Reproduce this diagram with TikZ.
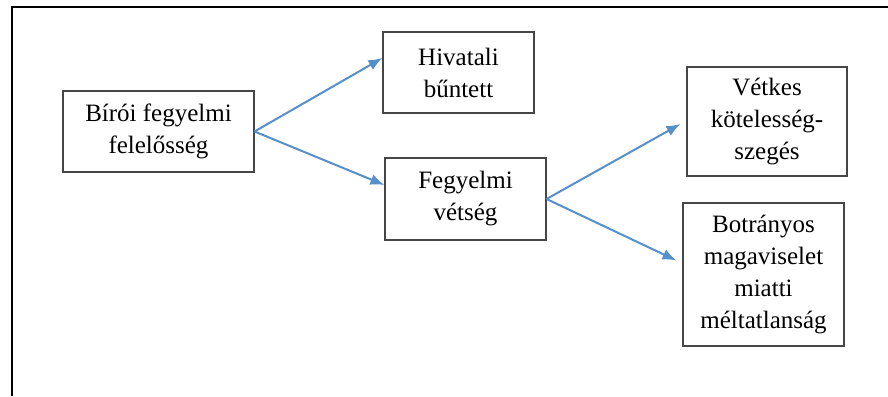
\documentclass[tikz,border=0pt]{standalone}
\usepackage{fontspec}
\setmainfont{Liberation Serif}
\usetikzlibrary{arrows.meta}
\definecolor{arrowblue}{RGB}{86,143,202}
\definecolor{boxgray}{RGB}{70,70,70}
\begin{document}
\begin{tikzpicture}[x=1pt,y=-1pt,
  box/.style={draw=boxgray,line width=1.1pt,align=center,inner sep=0pt,
    font=\fontsize{25}{32}\selectfont},
  conn/.style={draw=arrowblue,line width=2pt,-{Latex[length=14pt,width=11pt]}}]
\useasboundingbox (0,0) rectangle (888,396);
\draw[line width=2pt] (12,396) -- (12,7.5) -- (888,7.5);
\node[box,minimum width=191pt,minimum height=81pt] (biro) at (158.5,131.5) {Bírói fegyelmi\\felelősség};
\node[box,minimum width=151pt,minimum height=81pt] (hiv) at (458.5,72.5) {Hivatali\\bűntett};
\node[box,minimum width=161pt,minimum height=82pt] (fegy) at (465.5,199) {Fegyelmi\\vétség};
\node[box,minimum width=160pt,minimum height=109pt] (vet) at (767,121.5) {Vétkes\\kötelesség-\\szegés};
\node[box,minimum width=161pt,minimum height=143pt] (bot) at (763.5,274.5) {Botrányos\\magaviselet\\miatti\\méltatlanság};
\draw[conn] (biro.east) -- ([yshift=14.5pt]hiv.west);
\draw[conn] (biro.east) -- ([yshift=14pt]fegy.west);
\draw[conn] (fegy.east) -- ([xshift=-6pt,yshift=-2.5pt]vet.west);
\draw[conn] (fegy.east) -- ([xshift=-6pt,yshift=14pt]bot.west);
\end{tikzpicture}
\end{document}
